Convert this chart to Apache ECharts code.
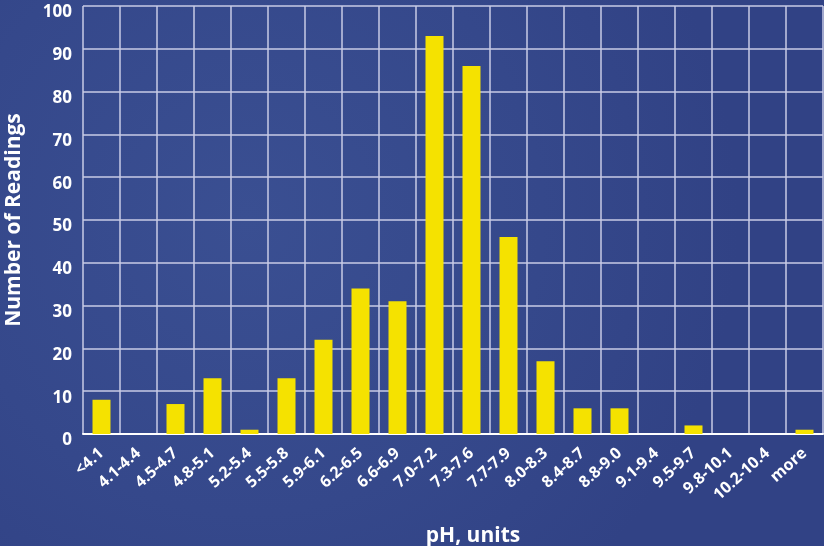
<!DOCTYPE html>
<html><head><meta charset="utf-8">
<script src="https://cdn.jsdelivr.net/npm/echarts@6/dist/echarts.min.js"></script>
<style>html,body{margin:0;padding:0;background:#34468a}#c{width:824px;height:546px}</style>
</head><body><div id="c"></div>
<script>
const categories = ['<4.1','4.1-4.4','4.5-4.7','4.8-5.1','5.2-5.4','5.5-5.8','5.9-6.1','6.2-6.5','6.6-6.9','7.0-7.2','7.3-7.6','7.7-7.9','8.0-8.3','8.4-8.7','8.8-9.0','9.1-9.4','9.5-9.7','9.8-10.1','10.2-10.4','more'];
const readings = [8,0,7,13,1,13,22,34,31,93,86,46,17,6,6,0,2,0,0,1];
const yTicks = {min:0, max:100, interval:10};

const chart = echarts.init(document.getElementById('c'));
const font = '"Open Sans", "DejaVu Sans", sans-serif';
chart.setOption({
  backgroundColor: {
    type:'radial', x:0.3, y:0.4, r:0.9,
    colorStops:[{offset:0,color:'#3a4f92'},{offset:0.6,color:'#35488b'},{offset:1,color:'#314285'}]
  },
  animation:false,
  grid:{left:83, right:1, top:6, bottom:112, containLabel:false, outerBoundsMode:'none'},
  xAxis:{
    type:'category', data:categories,
    axisLine:{show:true, lineStyle:{color:'#ffffff', width:2}},
    axisTick:{show:false},
    splitLine:{show:true, lineStyle:{color:'#c9cbe6', width:1.5}},
    axisLabel:{color:'#ffffff', fontFamily:font, fontWeight:'bold', fontSize:16, rotate:42, margin:17, interval:0},
    name:'pH, units', nameLocation:'middle', nameGap:92,
    nameTextStyle:{color:'#ffffff', fontFamily:font, fontWeight:'bold', fontSize:21, padding:[0,0,0,40]}
  },
  yAxis:{
    type:'value', min:yTicks.min, max:yTicks.max, interval:yTicks.interval,
    axisLine:{show:false}, axisTick:{show:false},
    splitLine:{show:true, lineStyle:{color:'#c9cbe6', width:1.5}},
    axisLabel:{color:'#ffffff', fontFamily:font, fontWeight:'bold', fontSize:17, margin:11, verticalAlign:'top', lineHeight:17, padding:[-2,0,0,0]},
    name:'Number of Readings', nameLocation:'middle', nameGap:58, nameRotate:90,
    nameTextStyle:{color:'#ffffff', fontFamily:font, fontWeight:'bold', fontSize:21}
  },
  series:[{
    type:'bar', data:readings, barWidth:18,
    itemStyle:{color:'#f5e200'}
  }]
});
</script></body></html>
